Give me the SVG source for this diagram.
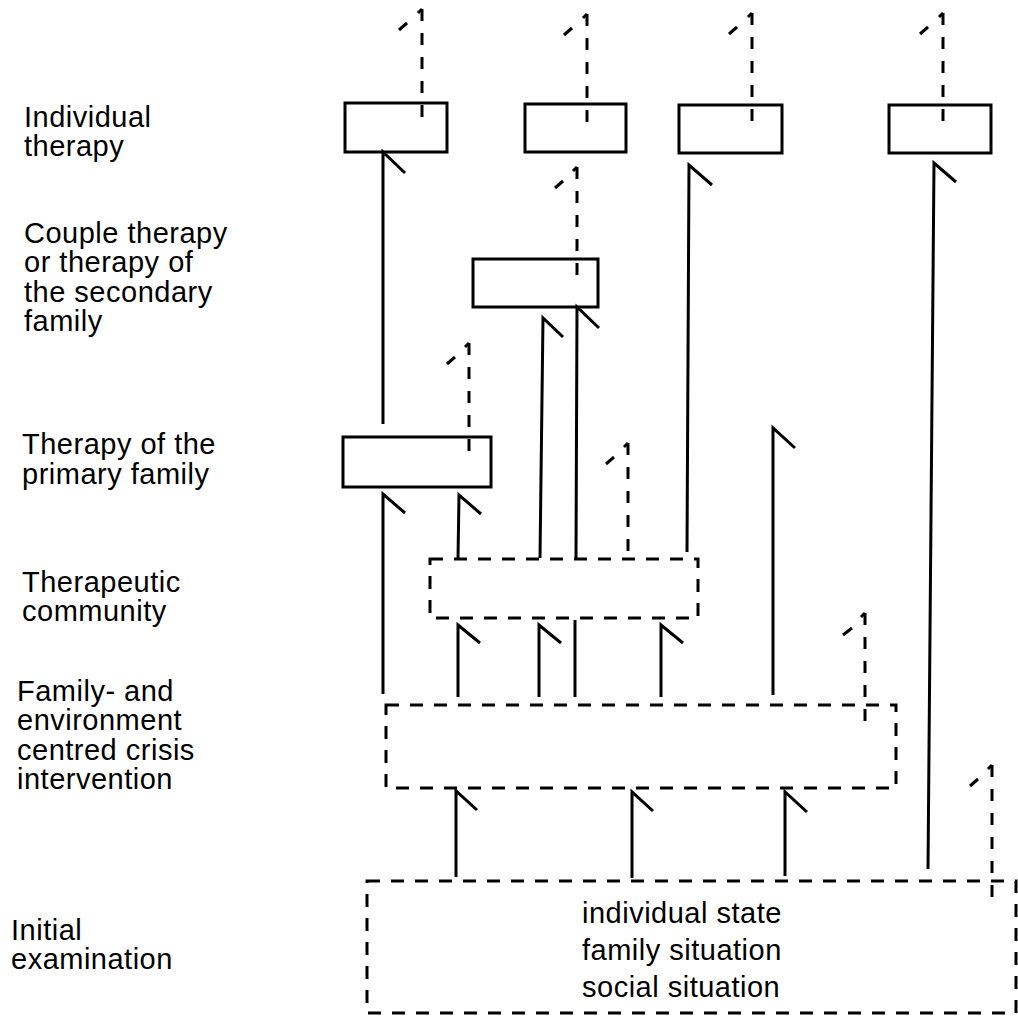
<svg xmlns="http://www.w3.org/2000/svg" width="1018" height="1017" viewBox="0 0 1018 1017">
<style>
  .lbl { font-family: "Liberation Sans", Arial, sans-serif; font-size: 29px; letter-spacing: 0.5px; fill: #000; }
  .box { fill: none; stroke: #000; stroke-width: 3; }
  .dbox { fill: none; stroke: #000; stroke-width: 3; stroke-dasharray: 13 11; }
  .ln { fill: none; stroke: #000; stroke-width: 3; stroke-linecap: butt; }
  .dl { fill: none; stroke: #000; stroke-width: 3; stroke-dasharray: 12 12; }
</style>
<rect width="1018" height="1017" fill="#fff"/>

<g id="labels">
  <text class="lbl" x="24" y="127">Individual</text>
  <text class="lbl" x="24" y="156">therapy</text>
  <text class="lbl" x="24" y="243">Couple therapy</text>
  <text class="lbl" x="24" y="272">or therapy of</text>
  <text class="lbl" x="24" y="302">the secondary</text>
  <text class="lbl" x="24" y="331">family</text>
  <text class="lbl" x="22" y="454">Therapy of the</text>
  <text class="lbl" x="22" y="484">primary family</text>
  <text class="lbl" x="22" y="592">Therapeutic</text>
  <text class="lbl" x="22" y="621">community</text>
  <text class="lbl" x="17" y="701">Family- and</text>
  <text class="lbl" x="17" y="730">environment</text>
  <text class="lbl" x="17" y="760">centred crisis</text>
  <text class="lbl" x="17" y="789">intervention</text>
  <text class="lbl" x="11" y="940">Initial</text>
  <text class="lbl" x="11" y="969">examination</text>
</g>

<g id="node-individual-1"><rect class="box" x="345" y="103" width="102" height="49"/></g>
<g id="node-individual-2"><rect class="box" x="525" y="104" width="101" height="48"/></g>
<g id="node-individual-3"><rect class="box" x="679" y="105" width="103" height="48"/></g>
<g id="node-individual-4"><rect class="box" x="889" y="105" width="102" height="48"/></g>
<g id="node-couple"><rect class="box" x="473" y="259" width="125" height="48"/></g>
<g id="node-primary"><rect class="box" x="343" y="437" width="148" height="50"/></g>
<g id="node-community"><rect class="dbox" x="430" y="559" width="268" height="59"/></g>
<g id="node-crisis"><rect class="dbox" x="386" y="705" width="510" height="83"/></g>
<g id="node-initial">
  <rect class="dbox" x="367" y="881" width="649" height="132"/>
  <text class="lbl" x="582" y="923">individual state</text>
  <text class="lbl" x="582" y="960">family situation</text>
  <text class="lbl" x="582" y="997">social situation</text>
</g>

<g id="connectors">
  <path class="ln" d="M383,424 L383,152 L405,173"/>
  <path class="ln" d="M687,552 L689,165 L712,185"/>
  <path class="ln" d="M928,869 L934,163 L956,182"/>
  <path class="ln" d="M540,558 L543,318 L563,337"/>
  <path class="ln" d="M576,559 L577,307 L599,328"/>
  <path class="ln" d="M383,694 L383,494 L405,513"/>
  <path class="ln" d="M458,559 L459,495 L481,514"/>
  <path class="ln" d="M773,695 L773,428 L795,448"/>
  <path class="ln" d="M458,697 L458,625 L480,643"/>
  <path class="ln" d="M539,697 L539,625 L561,643"/>
  <path class="ln" d="M575,697 L575,620"/>
  <path class="ln" d="M661,697 L661,625 L683,643"/>
  <path class="ln" d="M456,877 L456,791 L477,810"/>
  <path class="ln" d="M632,878 L632,792 L653,811"/>
  <path class="ln" d="M785,876 L785,792 L807,812"/>

  <g id="fb-ind1"><path class="ln" d="M418,13 L422,9"/><line class="dl" x1="422" y1="9" x2="422" y2="118"/><line class="ln" x1="399" y1="30" x2="407" y2="23"/></g>
  <g id="fb-ind2"><path class="ln" d="M583,18 L587,14"/><line class="dl" x1="587" y1="14" x2="587" y2="123"/><line class="ln" x1="564" y1="35" x2="572" y2="28"/></g>
  <g id="fb-ind3"><path class="ln" d="M748,17 L752,13"/><line class="dl" x1="752" y1="13" x2="752" y2="122"/><line class="ln" x1="729" y1="34" x2="737" y2="27"/></g>
  <g id="fb-ind4"><path class="ln" d="M939,17 L943,13"/><line class="dl" x1="943" y1="13" x2="943" y2="123"/><line class="ln" x1="920" y1="34" x2="928" y2="27"/></g>
  <g id="fb-couple"><path class="ln" d="M573,171 L577,167"/><line class="dl" x1="577" y1="167" x2="577" y2="277"/><line class="ln" x1="555" y1="188" x2="563" y2="181"/></g>
  <g id="fb-primary"><path class="ln" d="M465,347 L469,343"/><line class="dl" x1="469" y1="343" x2="469" y2="457"/><line class="ln" x1="447" y1="364" x2="455" y2="357"/></g>
  <g id="fb-community"><path class="ln" d="M624,447 L628,443"/><line class="dl" x1="628" y1="443" x2="628" y2="556"/><line class="ln" x1="606" y1="464" x2="614" y2="457"/></g>
  <g id="fb-crisis"><path class="ln" d="M861,617 L865,613"/><line class="dl" x1="865" y1="613" x2="865" y2="724"/><line class="ln" x1="843" y1="635" x2="852" y2="628"/></g>
  <g id="fb-initial"><path class="ln" d="M988,769 L992,765"/><line class="dl" x1="992" y1="765" x2="992" y2="902"/><line class="ln" x1="970" y1="786" x2="978" y2="779"/></g>
</g>
</svg>
